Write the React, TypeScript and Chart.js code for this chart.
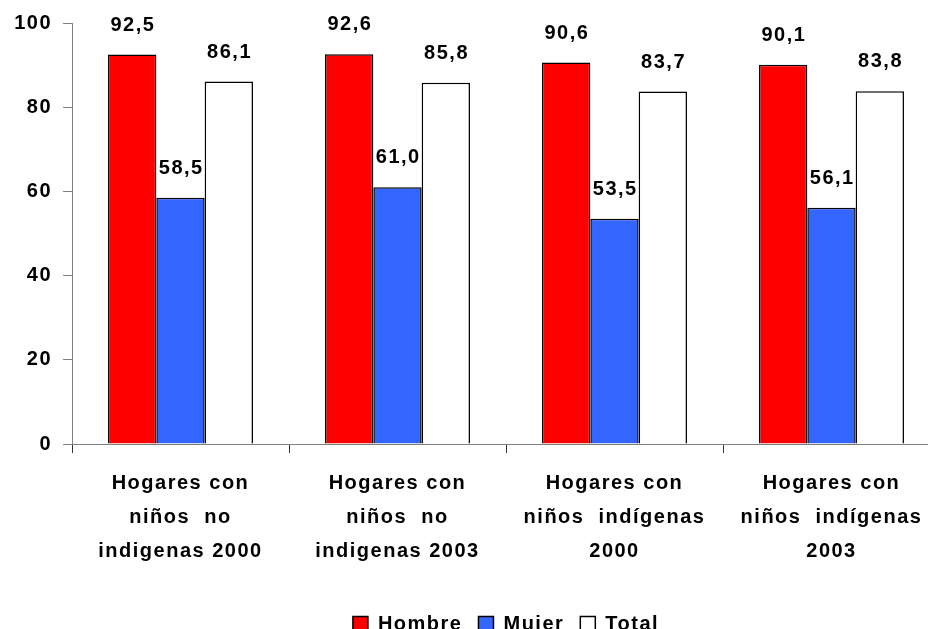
import React, { useEffect, useRef } from 'react';
import { Chart, registerables } from 'chart.js';

Chart.register(...registerables);

// ---- data ----
const categories: string[][] = [
  ['Hogares con', 'niños  no', 'indigenas 2000'],
  ['Hogares con', 'niños  no', 'indigenas 2003'],
  ['Hogares con', 'niños  indígenas', '2000'],
  ['Hogares con', 'niños  indígenas', '2003'],
];
const seriesNames = ['Hombre', 'Mujer', 'Total'];
const hombre = [92.5, 92.6, 90.6, 90.1];
const mujer = [58.5, 61.0, 53.5, 56.1];
const total = [86.1, 85.8, 83.7, 83.8];
const yMin = 0;
const yMax = 100;
const yStep = 20;

// ---- styles ----
const FONT_FAMILY = '"Liberation Sans", Arial, sans-serif';
const FONT_SIZE = 20;
const LS = 1.5;
const seriesColors = ['#FF0000', '#3366FF', '#FFFFFF'];

const fmt = (v: number) => v.toFixed(1).replace('.', ',');

const spacingPlugin = {
  id: 'letterSpacing',
  beforeUpdate(chart: any) {
    chart.ctx.letterSpacing = LS + 'px';
  },
  beforeLayout(chart: any) {
    chart.ctx.letterSpacing = LS + 'px';
  },
  beforeDraw(chart: any) {
    chart.ctx.letterSpacing = LS + 'px';
  },
};

const valueLabelPlugin = {
  id: 'valueLabels',
  afterDatasetsDraw(chart: any) {
    const ctx = chart.ctx;
    ctx.save();
    ctx.letterSpacing = LS + 'px';
    ctx.font = `bold ${FONT_SIZE}px ${FONT_FAMILY}`;
    ctx.fillStyle = '#000';
    ctx.textAlign = 'center';
    ctx.textBaseline = 'alphabetic';
    chart.data.datasets.forEach((ds: any, di: number) => {
      const meta = chart.getDatasetMeta(di);
      meta.data.forEach((bar: any, i: number) => {
        const v = ds.data[i];
        ctx.fillText(fmt(v), bar.x + LS / 2, bar.y - 24);
      });
    });
    ctx.restore();
  },
};

export default function App() {
  const ref = useRef<HTMLCanvasElement>(null);

  useEffect(() => {
    if (!ref.current) return;
    const font = { family: FONT_FAMILY, size: FONT_SIZE, weight: 'bold' as const };
    const chart = new Chart(ref.current, {
      type: 'bar',
      data: {
        labels: categories,
        datasets: [hombre, mujer, total].map((d, i) => ({
          label: seriesNames[i],
          data: d,
          backgroundColor: seriesColors[i],
          borderColor: '#000000',
          borderWidth: 1.5,
          categoryPercentage: 0.668,
          barPercentage: 1.0,
        })),
      },
      options: {
        animation: false,
        responsive: false,
        devicePixelRatio: 1,
        layout: { padding: { top: 22, left: 0, right: 0, bottom: 0 } },
        plugins: {
          legend: {
            position: 'bottom',
            fullSize: false,
            labels: {
              boxWidth: 15,
              boxHeight: 15,
              padding: 16,
              color: '#000',
              font,
            },
          },
          tooltip: { enabled: false },
        },
        scales: {
          x: {
            grid: {
              display: true,
              offset: true,
              drawOnChartArea: false,
              drawTicks: true,
              tickLength: 9,
              color: '#333333',
            },
            border: { display: true, color: '#808080', width: 1 },
            ticks: {
              color: '#000',
              font: { ...font, lineHeight: 1.7 },
              padding: 13,
              maxRotation: 0,
              autoSkip: false,
            },
            afterFit(scale: any) {
              scale.height = 154;
            },
          },
          y: {
            min: yMin,
            max: yMax,
            grid: {
              display: true,
              drawOnChartArea: false,
              drawTicks: true,
              tickLength: 9,
              color: '#808080',
            },
            border: { display: true, color: '#808080', width: 1 },
            ticks: {
              stepSize: yStep,
              color: '#000',
              font,
              padding: 11,
            },
            afterFit(scale: any) {
              scale.width = 72;
            },
          },
        },
      },
      plugins: [spacingPlugin, valueLabelPlugin],
    });
    return () => chart.destroy();
  }, []);

  return (
    <div
      style={{
        position: 'fixed',
        left: 0,
        top: 0,
        width: 928,
        height: 629,
        overflow: 'hidden',
        background: '#fff',
      }}
    >
      <canvas ref={ref} width={940} height={644} style={{ display: 'block' }} />
    </div>
  );
}
